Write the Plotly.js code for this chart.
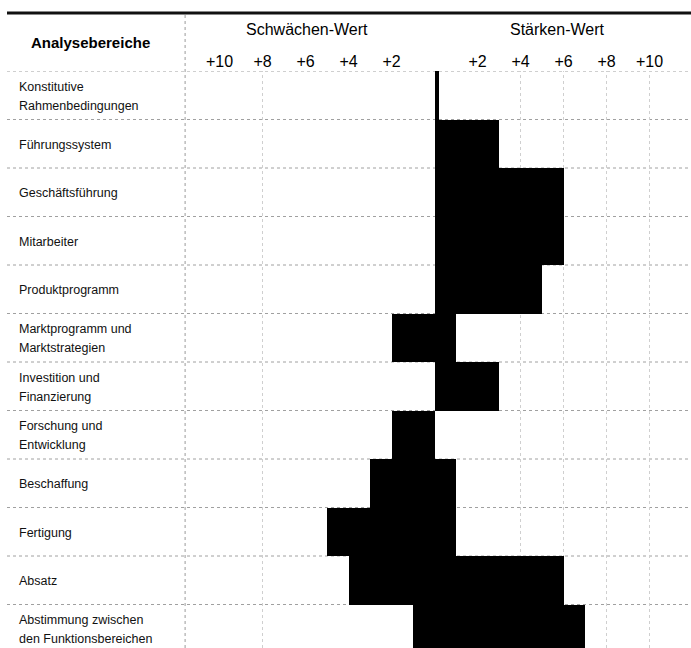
<!DOCTYPE html>
<html>
<head>
<meta charset="utf-8">
<script src="https://cdn.plot.ly/plotly-3.0.1.min.js"></script>
<style>html,body{margin:0;padding:0;background:#fff;}#chart{width:691px;height:648px;}</style>
</head>
<body>
<div id="chart"></div>
<script>
// ---- data ----
var categories = [
  "Konstitutive<br>Rahmenbedingungen",
  "Führungssystem",
  "Geschäftsführung",
  "Mitarbeiter",
  "Produktprogramm",
  "Marktprogramm und<br>Marktstrategien",
  "Investition und<br>Finanzierung",
  "Forschung und<br>Entwicklung",
  "Beschaffung",
  "Fertigung",
  "Absatz",
  "Abstimmung zwischen<br>den Funktionsbereichen"
];
var schwaechenWert = [0, 0, 0, 0, 0, 2, 0, 2, 3, 5, 4, 1];
var staerkenWert   = [0.2, 3, 6, 6, 5, 1, 3, 0, 1, 1, 6, 7];
var tickValues = [-10, -8, -6, -4, -2, 2, 4, 6, 8, 10];
var tickLabels = ["+10", "+8", "+6", "+4", "+2", "+2", "+4", "+6", "+8", "+10"];
var columnTitle = "Analysebereiche";
var leftTitle = "Schwächen-Wert";
var rightTitle = "Stärken-Wert";

// ---- layout helpers ----
var FONT = "Liberation Sans, Arial, Helvetica, sans-serif";
var W = 691, H = 648, mL = 7, mR = 0, mT = 71, mB = 0;
var plotH = H - mT - mB;
function py(p) { return (H - mB - p) / plotH; }   // pixel y -> paper y

var traces = [
  {
    type: "bar", orientation: "h", name: leftTitle,
    y: categories, x: schwaechenWert.map(function (v) { return -v; }),
    width: 1, marker: { color: "#000", line: { width: 0 } },
    hoverinfo: "skip"
  },
  {
    type: "bar", orientation: "h", name: rightTitle,
    y: categories, x: staerkenWert,
    width: 1, marker: { color: "#000", line: { width: 0 } },
    hoverinfo: "skip"
  }
];

var shapes = [];
// row separators (dotted)
for (var k = 0; k <= categories.length; k++) {
  shapes.push({
    type: "line", xref: "paper", yref: "y",
    x0: 0, x1: 1, y0: k - 0.5, y1: k - 0.5,
    line: { color: "#a0a0a0", width: 1, dash: "dot" }, layer: "below"
  });
}
// column separator
shapes.push({
  type: "line", xref: "x", yref: "paper",
  x0: -11.6, x1: -11.6, y0: 0, y1: py(13),
  line: { color: "#9a9a9a", width: 1, dash: "dot" }, layer: "below"
});
// faint vertical grid
[-8, 4, 6, 8, 10].forEach(function (v) {
  shapes.push({
    type: "line", xref: "x", yref: "paper",
    x0: v, x1: v, y0: 0, y1: 1,
    line: { color: "#cfcfcf", width: 1, dash: "dot" }, layer: "below"
  });
});
// thick top rule
shapes.push({
  type: "line", xref: "paper", yref: "paper",
  x0: 0, x1: 1, y0: py(13), y1: py(13),
  line: { color: "#111", width: 3 }
});

var annotations = [];
// row labels (each line placed separately for tighter spacing)
categories.forEach(function (c) {
  var lines = c.split("<br>");
  var n = lines.length;
  lines.forEach(function (ln, i) {
    annotations.push({
      xref: "paper", yref: "y", x: (17 - mL) / (W - mL - mR), y: c,
      xanchor: "left", yanchor: "middle",
      yshift: (n === 1 ? 0 : ((n - 1) / 2 - i) * 19) - 1,
      text: ln, showarrow: false,
      font: { family: FONT, size: 12.5, color: "#111" }
    });
  });
});
annotations.push({
  xref: "x", yref: "paper", x: -15.98, y: py(43), xanchor: "center", yanchor: "middle",
  text: "<b>" + columnTitle + "</b>", showarrow: false,
  font: { family: FONT, size: 15, color: "#000" }
});
annotations.push({
  xref: "x", yref: "paper", x: -5.95, y: py(30), xanchor: "center", yanchor: "middle",
  text: leftTitle, showarrow: false,
  font: { family: FONT, size: 16, color: "#000" }
});
annotations.push({
  xref: "x", yref: "paper", x: 5.7, y: py(30), xanchor: "center", yanchor: "middle",
  text: rightTitle, showarrow: false,
  font: { family: FONT, size: 16, color: "#000" }
});

var layout = {
  width: W, height: H,
  margin: { l: mL, r: mR, t: mT, b: mB, pad: 0 },
  paper_bgcolor: "#fff", plot_bgcolor: "#fff",
  showlegend: false,
  barmode: "overlay", bargap: 0,
  xaxis: {
    range: [(mL - 434.5) / 21.5, (W - mR - 434.5) / 21.5],
    side: "top", tickmode: "array", tickvals: tickValues, ticktext: tickLabels,
    tickfont: { family: FONT, size: 16, color: "#000" },
    ticks: "", showgrid: false, zeroline: false, showline: false, fixedrange: true
  },
  yaxis: {
    type: "category", categoryorder: "array", categoryarray: categories,
    range: [-0.5 + plotH / 48.5, -0.5],
    showticklabels: false, showgrid: false, zeroline: false, showline: false, ticks: "",
    fixedrange: true
  },
  shapes: shapes,
  annotations: annotations
};

Plotly.newPlot("chart", traces, layout, { staticPlot: true, displayModeBar: false });
</script>
</body>
</html>
